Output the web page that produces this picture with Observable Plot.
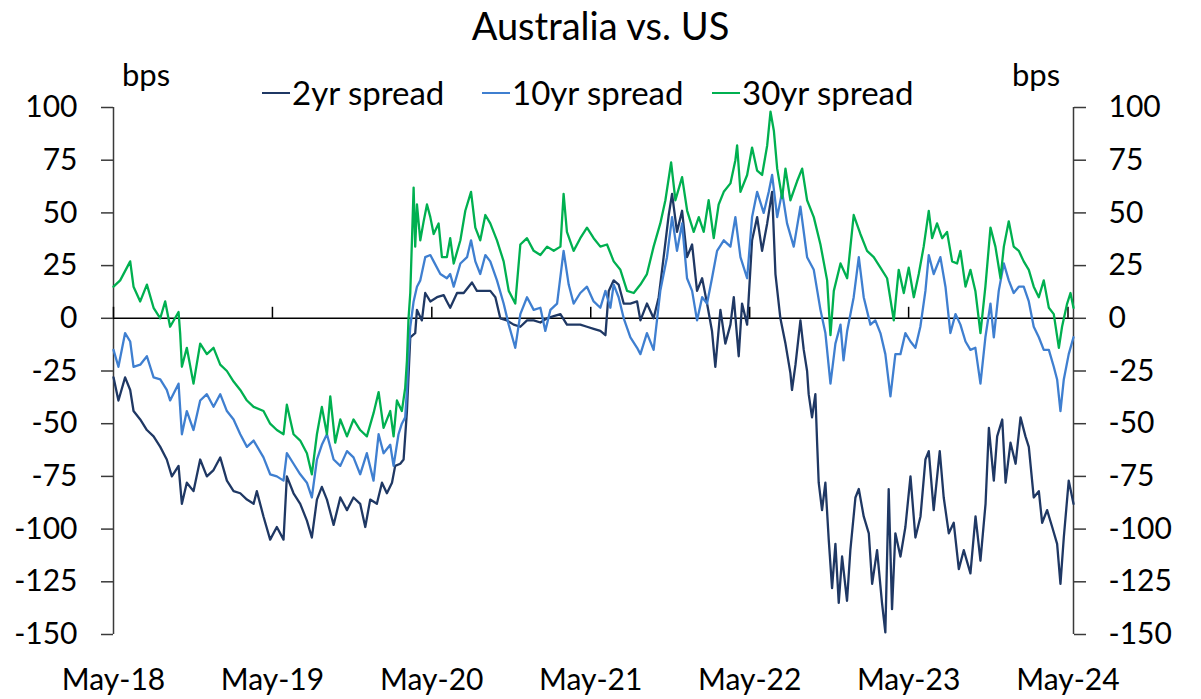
<!DOCTYPE html>
<html><head><meta charset="utf-8">
<script src="https://cdn.jsdelivr.net/npm/d3@7"></script>
<script src="https://cdn.jsdelivr.net/npm/@observablehq/plot@0.6"></script>
<style>
body{margin:0;background:#fff;}
#wrap{position:relative;width:1201px;height:699px;font-family:Lato,"Open Sans",sans-serif;color:#000;overflow:hidden;}
.ov{position:absolute;white-space:nowrap;line-height:1;}
.item{position:absolute;white-space:nowrap;line-height:1;display:flex;align-items:center;}
.sw{display:inline-block;width:28px;height:2px;margin-right:2px;}
</style></head><body>
<div id="wrap">
  <div id="chart"></div>
  <div class="ov" style="left:0;width:1201px;text-align:center;top:6px;font-size:38px">Australia vs. US</div>
  <div class="ov" style="left:122px;top:59px;font-size:31px">bps</div>
  <div class="ov" style="left:1012px;top:59px;font-size:31px">bps</div>
  <div id="legend"></div>
</div>
<script>
// ---- data (time = years since 1 May 2018, value = bps) ----
const seriesNames = ["2yr spread", "10yr spread", "30yr spread"];
const seriesColors = ["#1f3864", "#3f7fd0", "#00b050"];
const yTicks = [100, 75, 50, 25, 0, -25, -50, -75, -100, -125, -150];
const xTickLabels = ["May-18", "May-19", "May-20", "May-21", "May-22", "May-23", "May-24"];

const spread2yr = [
[0,-28],[0.031,-39],[0.073,-28],[0.105,-34],[0.126,-44],[0.168,-48],[0.21,-53],[0.252,-56],[0.294,-61],[0.335,-67],[0.367,-75],[0.409,-70],[0.43,-88],[0.461,-78],[0.503,-82],[0.545,-67],[0.587,-75],[0.629,-72],[0.671,-66],[0.713,-77],[0.755,-82],[0.797,-83],[0.839,-86],[0.881,-88],[0.901,-82],[0.943,-94],[0.985,-105],[1.027,-99],[1.069,-105],[1.09,-75],[1.132,-83],[1.174,-88],[1.216,-96],[1.247,-104],[1.279,-86],[1.31,-80],[1.342,-86],[1.384,-98],[1.426,-85],[1.468,-91],[1.509,-85],[1.551,-88],[1.583,-99],[1.614,-86],[1.656,-88],[1.688,-78],[1.719,-83],[1.751,-78],[1.771,-70],[1.803,-69],[1.824,-67],[1.845,-44],[1.866,-9],[1.897,-7],[1.908,4],[1.939,-1],[1.96,12],[1.992,8],[2.034,10],[2.076,11],[2.096,8],[2.117,5],
[2.16,12],[2.202,12],[2.254,17],[2.285,13],[2.327,13],[2.369,13],[2.401,10],[2.432,0],[2.474,-1],[2.516,-3],[2.558,-4],[2.6,-1],[2.642,-1],[2.684,-2],[2.726,0],[2.768,1],[2.81,2],[2.851,-3],[2.893,-3],[2.935,-3],[2.977,-4],[3.019,-5],[3.061,-6],[3.093,-8],[3.114,13],[3.145,18],[3.176,16],[3.208,7],[3.25,7],[3.292,8],[3.313,-1],
[3.354,7],[3.396,0],[3.428,10],[3.459,29],[3.491,49],[3.512,59],[3.543,41],[3.575,51],[3.606,29],[3.638,35],[3.669,13],[3.701,19],[3.732,7],[3.763,-6],[3.784,-23],[3.816,4],[3.847,-12],[3.879,-3],[3.9,10],[3.931,-18],[3.952,7],[3.984,-3],[4.015,37],[4.047,48],[4.078,32],[4.11,45],[4.141,60],[4.162,21],[4.193,0],[4.225,-12],[4.256,-26],[4.266,-34],[4.288,-22],[4.319,-1],[4.34,-15],
[4.361,-25],[4.371,-36],[4.392,-47],[4.413,-36],[4.424,-59],[4.434,-78],[4.455,-91],[4.476,-78],[4.497,-105],[4.518,-128],[4.539,-107],[4.56,-135],[4.581,-113],[4.612,-134],[4.633,-110],[4.665,-85],[4.686,-81],[4.717,-94],[4.749,-102],[4.77,-126],[4.801,-110],[4.832,-135],[4.853,-149],[4.874,-81],[4.895,-138],[4.916,-102],[4.948,-113],[4.979,-99],[5.011,-75],[5.042,-104],[5.074,-94],[5.105,-67],[5.126,-63],[5.157,-91],[5.195,-63],[5.22,-85],[5.252,-102],[5.283,-97],[5.315,-119],[5.346,-110],[5.388,-121],[5.42,-94],[5.451,-115],[5.483,-88],[5.504,-52],[5.535,-77],[5.556,-56],[5.588,-48],[5.609,-78],[5.64,-59],[5.672,-69],[5.703,-47],[5.734,-56],[5.755,-61],[5.786,-85],[5.818,-82],[5.839,-97],[5.87,-91],[5.902,-99],[5.933,-107],[5.954,-126],[5.975,-104],[6.006,-77],[6.036,-88]
];

const spread10yr = [
[0,-15],[0.031,-23],[0.073,-7],[0.105,-11],[0.126,-23],[0.168,-22],[0.21,-18],[0.252,-28],[0.294,-29],[0.335,-34],[0.356,-39],[0.409,-31],[0.43,-55],[0.461,-44],[0.503,-53],[0.545,-39],[0.587,-36],[0.629,-42],[0.671,-36],[0.713,-44],[0.755,-48],[0.797,-55],[0.839,-61],[0.881,-58],[0.943,-66],[0.985,-74],[1.027,-75],[1.069,-77],[1.09,-64],[1.132,-69],[1.174,-74],[1.216,-78],[1.247,-85],[1.279,-67],[1.31,-60],[1.342,-55],[1.384,-67],[1.426,-70],[1.468,-63],[1.509,-66],[1.551,-74],[1.593,-64],[1.635,-77],[1.667,-55],[1.698,-64],[1.74,-60],[1.761,-70],[1.792,-55],[1.813,-50],[1.834,-47],[1.845,-34],[1.855,-17],[1.866,-4],[1.887,8],[1.908,15],[1.929,18],[1.96,29],[1.992,30],[2.013,27],[2.055,21],[2.096,19],[2.117,21],
[2.139,15],[2.181,26],[2.223,29],[2.248,37],[2.275,27],[2.306,21],[2.338,30],[2.369,27],[2.411,18],[2.453,7],[2.485,-3],[2.526,-14],[2.558,2],[2.6,10],[2.642,4],[2.684,5],[2.715,-6],[2.747,4],[2.789,7],[2.83,32],[2.862,16],[2.893,7],[2.935,12],[2.977,15],[3.019,8],[3.061,5],[3.093,13],[3.124,5],[3.145,16],[3.176,10],[3.208,0],[3.25,-9],[3.292,-14],[3.313,-17],
[3.354,-7],[3.396,-15],[3.438,13],[3.48,29],[3.512,48],[3.543,32],[3.575,45],[3.606,19],[3.638,13],[3.669,-1],[3.701,10],[3.732,7],[3.763,19],[3.795,32],[3.837,37],[3.879,34],[3.91,48],[3.942,29],[3.984,19],[4.015,48],[4.047,60],[4.088,50],[4.12,60],[4.141,68],[4.173,48],[4.204,60],[4.235,45],[4.277,34],[4.319,53],[4.361,29],[4.403,23],[4.445,4],[4.476,-7],[4.508,-31],[4.539,-12],[4.571,-3],[4.59,-20],[4.613,-6],[4.654,10],[4.686,29],[4.717,10],[4.759,-3],
[4.79,-1],[4.822,-7],[4.853,-17],[4.885,-37],[4.916,-17],[4.948,-17],[4.979,-7],[5.011,-11],[5.042,-14],[5.073,-4],[5.105,13],[5.126,30],[5.157,21],[5.199,29],[5.231,15],[5.262,-7],[5.294,2],[5.325,-3],[5.357,-11],[5.388,-15],[5.419,-14],[5.451,-31],[5.482,-9],[5.514,7],[5.535,-9],[5.566,13],[5.598,26],[5.629,18],[5.66,12],[5.692,15],[5.723,15],[5.755,8],[5.786,-4],[5.818,-9],[5.849,-15],[5.881,-15],[5.912,-23],[5.933,-29],[5.954,-44],[5.975,-29],[6.006,-17],[6.036,-9]
];

const spread30yr = [
[0,15],[0.042,18],[0.105,27],[0.126,15],[0.168,8],[0.21,16],[0.252,5],[0.294,0],[0.325,8],[0.356,-4],[0.409,3],[0.419,-7],[0.43,-23],[0.461,-14],[0.503,-31],[0.545,-12],[0.587,-17],[0.629,-14],[0.671,-22],[0.713,-25],[0.755,-30],[0.797,-34],[0.839,-39],[0.881,-42],[0.943,-44],[0.985,-50],[1.027,-53],[1.069,-55],[1.09,-41],[1.132,-55],[1.174,-58],[1.216,-64],[1.247,-74],[1.279,-55],[1.31,-42],[1.342,-55],[1.363,-37],[1.394,-59],[1.426,-48],[1.468,-56],[1.509,-48],[1.551,-53],[1.593,-56],[1.635,-45],[1.667,-35],[1.698,-52],[1.74,-44],[1.761,-56],[1.782,-39],[1.813,-44],[1.834,-33],[1.845,-20],[1.855,0],[1.866,12],[1.887,62],[1.897,34],[1.908,54],[1.929,37],[1.95,46],[1.971,54],[1.992,48],[2.013,40],[2.044,45],[2.065,29],[2.096,29],[2.117,38],
[2.139,26],[2.181,37],[2.212,51],[2.248,60],[2.275,43],[2.306,37],[2.338,49],[2.369,45],[2.411,37],[2.453,27],[2.485,13],[2.526,7],[2.558,35],[2.6,38],[2.642,32],[2.684,30],[2.726,34],[2.768,32],[2.81,34],[2.83,59],[2.851,41],[2.893,32],[2.935,38],[2.977,43],[3.019,38],[3.061,34],[3.103,35],[3.145,27],[3.187,23],[3.229,13],[3.271,12],[3.313,16],
[3.354,21],[3.396,34],[3.438,45],[3.47,56],[3.506,74],[3.533,56],[3.575,67],[3.607,51],[3.648,41],[3.68,48],[3.711,41],[3.742,56],[3.774,38],[3.805,54],[3.837,60],[3.879,64],[3.91,75],[3.921,82],[3.942,60],[3.984,68],[4.015,81],[4.047,70],[4.078,68],[4.11,82],[4.131,98],[4.152,89],[4.173,71],[4.204,57],[4.225,71],[4.256,56],[4.298,65],[4.33,71],[4.361,56],[4.403,48],[4.445,35],[4.487,18],[4.508,-8],[4.529,13],[4.571,26],[4.613,19],[4.654,49],[4.696,40],[4.738,32],[4.78,29],[4.822,24],[4.864,19],
[4.906,-1],[4.937,23],[4.969,12],[5.0,24],[5.032,10],[5.063,21],[5.094,34],[5.126,51],[5.147,38],[5.178,45],[5.21,38],[5.241,41],[5.273,27],[5.304,26],[5.325,32],[5.357,15],[5.388,23],[5.419,13],[5.451,-7],[5.482,15],[5.514,43],[5.545,34],[5.577,19],[5.598,34],[5.629,46],[5.66,34],[5.692,32],[5.723,27],[5.755,23],[5.786,15],[5.818,10],[5.849,18],[5.881,5],[5.912,2],[5.944,-14],[5.964,-4],[5.996,7],[6.017,12],[6.036,5]
];

// ---- build ----
const START = Date.UTC(2018, 4, 1);
const YEAR_MS = 365.25 * 864e5;
const toDate = (t) => new Date(START + t * YEAR_MS);
const seriesData = [spread2yr, spread10yr, spread30yr];
const rows = seriesData.flatMap((s, k) => s.map(([t, v]) => ({date: toDate(t), value: v, series: seriesNames[k]})));
const xTicks = xTickLabels.map((_, i) => new Date(Date.UTC(2018 + i, 4, 1)));
const x0 = toDate(0), x1 = toDate(6.036);
const labelOf = (d) => xTickLabels[d.getUTCFullYear() - 2018];

const axisColor = "#3a3a3a";
const chart = Plot.plot({
  width: 1201, height: 699,
  marginTop: 107, marginBottom: 65, marginLeft: 113, marginRight: 128,
  style: {fontFamily: "Lato, 'Open Sans', sans-serif", fontSize: "30px", color: "#000", background: "transparent"},
  x: {type: "utc", domain: [x0, x1]},
  y: {domain: [-150, 100]},
  color: {domain: seriesNames, range: seriesColors},
  marks: [
    Plot.ruleX([x0], {stroke: axisColor, strokeWidth: 1.5}),
    Plot.ruleX([x1], {stroke: axisColor, strokeWidth: 1.5}),
    Plot.axisY(yTicks, {anchor: "left", tickSize: 12, tickPadding: 24, tickFormat: (d) => String(d), label: null, stroke: axisColor, strokeWidth: 1.5, fontSize: 30}),
    Plot.axisY(yTicks, {anchor: "right", tickSize: 12, tickPadding: 23, tickFormat: (d) => String(d), label: null, stroke: axisColor, strokeWidth: 1.5, fontSize: 30}),
    Plot.axisX(xTicks, {anchor: "bottom", tickSize: 0, tickPadding: 34, tickFormat: labelOf, label: null, fontSize: 30}),
    Plot.ruleX(xTicks, {x: (d) => d, y1: 0, y2: 0, insetBottom: 11, stroke: "#000", strokeWidth: 1.5}),
    Plot.ruleY([0], {stroke: "#000", strokeWidth: 1.5}),
    Plot.line(rows, {x: "date", y: "value", z: "series", stroke: "series", strokeWidth: 2.3, curve: "linear"})
  ]
});
document.getElementById("chart").appendChild(chart);

// legend
const legendLefts = [262, 482, 712];
const lg = document.getElementById("legend");
seriesNames.forEach((name, i) => {
  const el = document.createElement("div");
  el.className = "item";
  el.style.left = legendLefts[i] + "px";
  el.style.top = "76px";
  el.style.fontSize = "33px";
  el.innerHTML = `<span class="sw" style="background:${seriesColors[i]}"></span><span>${name}</span>`;
  lg.appendChild(el);
});
</script>
</body></html>
